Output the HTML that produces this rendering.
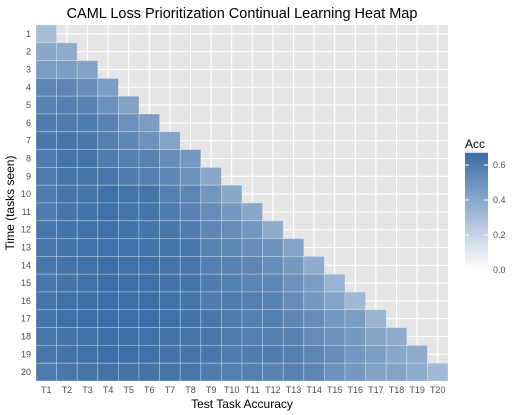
<!DOCTYPE html>
<html><head><meta charset="utf-8"><style>
body{margin:0;background:#fff;font-family:"Liberation Sans",Arial,sans-serif}
svg{display:block}
</style></head><body>
<svg id="chart" width="520" height="415">
<text x="242" y="18" text-anchor="middle" font-size="14.5" fill="#000">CAML Loss Prioritization Continual Learning Heat Map</text>
<text x="242" y="408" text-anchor="middle" font-size="12" fill="#000">Test Task Accuracy</text>
<text transform="translate(14,203) rotate(-90)" text-anchor="middle" font-size="12" fill="#000">Time (tasks seen)</text>
<g id="panel"></g>
<g id="legend"></g>
</svg>
<script>
const rowLabels=["1","2","3","4","5","6","7","8","9","10","11","12","13","14","15","16","17","18","19","20"];
const colLabels=["T1","T2","T3","T4","T5","T6","T7","T8","T9","T10","T11","T12","T13","T14","T15","T16","T17","T18","T19","T20"];
const accValues=[
[.30],
[.40,.38],
[.45,.45,.43],
[.55,.55,.52,.45],
[.57,.58,.57,.50,.43],
[.60,.60,.60,.57,.50,.45],
[.62,.63,.62,.58,.55,.50,.42],
[.60,.63,.63,.60,.58,.57,.52,.47],
[.60,.63,.63,.62,.60,.58,.55,.50,.40],
[.60,.63,.63,.65,.63,.63,.58,.55,.48,.40],
[.60,.63,.64,.65,.63,.63,.60,.57,.52,.47,.40],
[.62,.64,.65,.65,.64,.63,.62,.60,.55,.52,.48,.38],
[.62,.64,.65,.65,.65,.64,.63,.62,.57,.55,.52,.50,.42],
[.62,.64,.65,.66,.65,.65,.63,.62,.58,.57,.55,.52,.47,.38],
[.62,.64,.65,.66,.66,.65,.64,.63,.60,.58,.56,.55,.50,.45,.35],
[.63,.65,.66,.66,.66,.66,.65,.63,.60,.60,.58,.57,.52,.47,.42,.32],
[.63,.65,.66,.66,.66,.66,.65,.64,.62,.60,.58,.58,.55,.52,.47,.45,.35],
[.62,.64,.65,.66,.66,.65,.64,.63,.62,.60,.58,.58,.57,.52,.50,.47,.42,.38],
[.62,.64,.65,.66,.66,.65,.64,.63,.62,.60,.60,.60,.58,.55,.52,.48,.45,.40,.38],
[.60,.62,.63,.64,.64,.64,.63,.62,.60,.58,.58,.57,.57,.55,.50,.47,.43,.42,.38,.32]
];
const legendTicks=[0,0.2,0.4,0.6];
const NS="http://www.w3.org/2000/svg";
const L=36,T=25,W=412,H=356,VMAX=0.67;
const cw=W/colLabels.length, rh=H/rowLabels.length;
const xPos=i=>L+i*cw, yPos=j=>T+j*rh;
function color(v){const t=Math.max(0,Math.min(1,v/VMAX));
 const lo=[255,255,255],hi=[58,108,165];
 return `rgb(${lo.map((c,k)=>Math.round(c+(hi[k]-c)*t)).join(',')})`;}
function mk(tag,attrs,parent){const e=document.createElementNS(NS,tag);for(const k in attrs)e.setAttribute(k,attrs[k]);parent.appendChild(e);return e;}
const panel=document.getElementById('panel');
const bg=mk('rect',{x:L,y:T,width:W,height:H,fill:'#e5e5e5'},panel);


colLabels.forEach((c,i)=>{const g=mk('line',{x1:xPos(i)+cw/2,x2:xPos(i)+cw/2,y1:T,y2:T+H,stroke:'#fff','stroke-width':1.1},panel);


const t=mk('text',{x:xPos(i)+cw/2,y:T+H+12,'text-anchor':'middle','font-size':9,fill:'#4d4d4d'},panel);t.textContent=c;

});
rowLabels.forEach((r,j)=>{const g=mk('line',{x1:L,x2:L+W,y1:yPos(j)+rh/2,y2:yPos(j)+rh/2,stroke:'#fff','stroke-width':1.1},panel);


const t=mk('text',{x:L-5,y:yPos(j)+rh/2+3,'text-anchor':'end','font-size':9,fill:'#4d4d4d'},panel);t.textContent=r;

});
accValues.forEach((row,j)=>row.forEach((v,i)=>{const c=mk('rect',{x:xPos(i),y:yPos(j),width:cw,height:rh,fill:color(v),stroke:'rgba(255,255,255,0.35)','stroke-width':0.8},panel);

}));
const lg=document.getElementById('legend');
const lt=mk('text',{x:465,y:148,'font-size':12,fill:'#000'},lg);lt.textContent='Acc';


const defs=mk('defs',{},lg);const gr=mk('linearGradient',{id:'lgr',x1:0,y1:1,x2:0,y2:0},defs);
mk('stop',{offset:0,'stop-color':color(0)},gr);mk('stop',{offset:1,'stop-color':color(VMAX)},gr);
const LB=270,LS=175; const ly=v=>LB-v*LS;
const bar=mk('rect',{x:465,y:ly(VMAX),width:23,height:LB-ly(VMAX),fill:'url(#lgr)'},lg);


legendTicks.forEach(v=>{mk('line',{x1:465,x2:469,y1:ly(v),y2:ly(v),stroke:'#fff'},lg);mk('line',{x1:484,x2:488,y1:ly(v),y2:ly(v),stroke:'#fff'},lg);
const t=mk('text',{x:493,y:ly(v)+3,'font-size':9,fill:'#4d4d4d'},lg);t.textContent=v.toFixed(1);

});
</script>
</body></html>
